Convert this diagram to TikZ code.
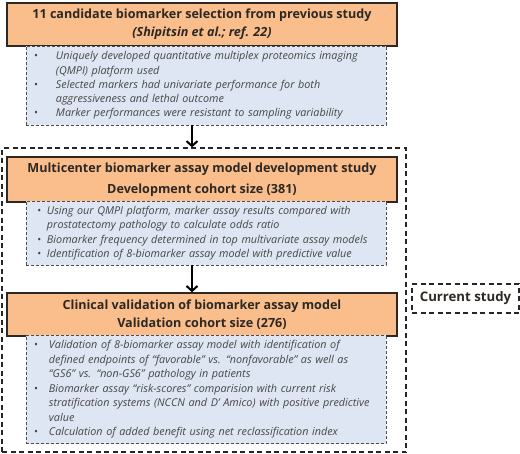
\documentclass[tikz,border=0pt]{standalone}
\usepackage{fontspec}
\setmainfont{Open Sans}
\usetikzlibrary{arrows.meta,positioning,calc}
\definecolor{STEP-ORANGE}{RGB}{249, 190, 140}
\definecolor{NOTE-BLUE}{RGB}{221, 230, 242}
\definecolor{TEXT-DARK}{RGB}{45, 40, 35}
\definecolor{TEXT-GREY}{RGB}{70, 70, 70}

\newcommand{\bulletrows}[2]{\begin{tabular}{@{}p{#1}@{}l@{}}#2\end{tabular}}

\tikzset{
  titlebox/.style={draw=TEXT-DARK, line width=1.4pt, fill=STEP-ORANGE, text=TEXT-DARK,
    minimum width=390pt, align=center, font=\fontsize{12.6}{18}\selectfont\bfseries},
  notebox/.style={draw=black!70, line width=0.8pt, dash pattern=on 3pt off 2pt, fill=NOTE-BLUE,
    minimum width=360pt, text width=344pt, align=left, text=TEXT-GREY,
    font=\fontsize{10.8}{14.3}\selectfont\itshape},
  studybox/.style={draw=black!85, line width=1.2pt, dash pattern=on 5pt off 3.5pt},
  flowarrow/.style={-{Straight Barb[length=5pt,width=11pt]}, line width=2pt, black}
}

\begin{document}
\begin{tikzpicture}[x=1pt,y=-1pt]
  \useasboundingbox (0,0) rectangle (520,453);

  % outer frame of the current study
  \node[studybox, minimum width=404pt, minimum height=304pt] (study) at (204,300) {};
  \node[studybox, minimum width=107pt, minimum height=29pt, text=TEXT-DARK,
    font=\fontsize{13.2}{15}\selectfont\bfseries] (cs) at (465.5,298.5) {Current study};

  % previous study
  \node[titlebox, minimum height=43pt] (t1) at (202,24.5)
    {11 candidate biomarker selection from previous study\\ \textit{(Shipitsin et al.; ref. 22)}};
  \node[notebox, minimum height=79pt] (d1) at (206,85.5) {\bulletrows{22pt}{%
    \textbullet & Uniquely developed quantitative multiplex proteomics imaging\\
     & (QMPI) platform used\\
    \textbullet & Selected markers had univariate performance for both\\
     & aggressiveness and lethal outcome\\
    \textbullet & Marker performances were resistant to sampling variability}};

  % development study
  \node[titlebox, minimum height=45pt, font=\fontsize{12.6}{21}\selectfont\bfseries] (t2) at (202,179.5)
    {Multicenter biomarker assay model development study\\ Development cohort size (381)};
  \node[notebox, minimum height=64pt] (d2) at (206,233) {\hspace*{3pt}\bulletrows{10pt}{%
    \textbullet & Using our QMPI platform, marker assay results compared with\\
     & prostatectomy pathology to calculate odds ratio\\
    \textbullet & Biomarker frequency determined in top multivariate assay models\\
    \textbullet & Identification of 8-biomarker assay model with predictive value}};

  % validation study
  \node[titlebox, minimum height=43pt] (t3) at (202,314.5)
    {Clinical validation of biomarker assay model\\ Validation cohort size (276)};
  \node[notebox, minimum height=107pt, font=\fontsize{10.8}{14.5}\selectfont\itshape] (d3) at (206,389.5) {\bulletrows{15pt}{%
    \textbullet & Validation of 8-biomarker assay model with identification of\\
     & defined endpoints of ``favorable'' vs. ``nonfavorable'' as well as\\
     & ``GS6'' vs. ``non-GS6'' pathology in patients\\
    \textbullet & Biomarker assay ``risk-scores'' comparision with current risk\\
     & stratification systems (NCCN and D' Amico) with positive predictive\\
     & value\\
    \textbullet & Calculation of added benefit using net reclassification index}};

  % arrows
  \coordinate (axis) at (192,0);
  \draw[flowarrow] (d1.south -| axis) -- (study.north -| axis);
  \draw[flowarrow] (d2.south -| axis) -- (t3.north -| axis);
\end{tikzpicture}
\end{document}
